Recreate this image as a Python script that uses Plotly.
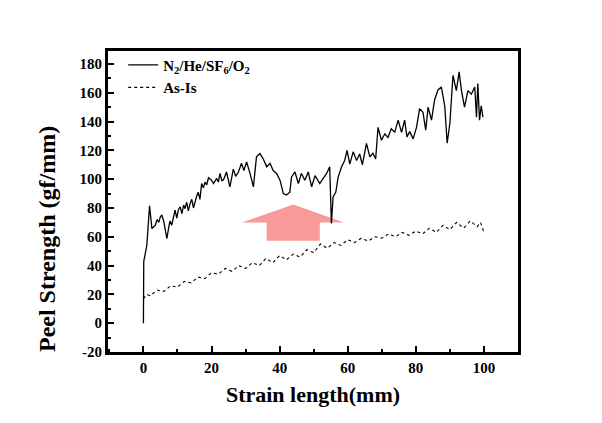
import plotly.graph_objects as go

# N2/He/SF6/O2 treated sample
treated_x = [0, 0.05, 0.1, 1.0, 1.8, 2.5, 3.0, 3.5, 4.0, 4.5, 5.0, 5.4, 5.9, 6.4, 6.9, 7.4, 7.8, 8.3, 8.8, 9.3, 9.8, 10.3, 10.8, 11.3, 11.8, 12.2, 12.7, 13.2, 13.7, 14.2, 14.7, 15.1, 15.6, 16.1, 16.6, 17.1, 17.6, 18.1, 18.6, 19.1, 20.0, 20.6, 21.5, 22.0, 22.5, 23.0, 23.5, 24.4, 25.4, 26.4, 27.1, 27.9, 28.8, 29.5, 30.3, 31.3, 32.3, 33.2, 34.2, 35.2, 36.2, 37.2, 38.1, 39.1, 40.1, 41.1, 42.0, 43.0, 43.5, 44.5, 45.5, 46.4, 47.4, 48.4, 49.4, 50.4, 51.8, 52.8, 53.8, 54.7, 55.2, 55.7, 56.5, 57.2, 58.2, 59.1, 59.8, 60.6, 61.6, 62.6, 63.5, 64.3, 65.5, 66.5, 67.4, 68.2, 68.9, 69.9, 70.9, 71.8, 72.8, 73.8, 74.8, 75.8, 76.7, 77.4, 78.2, 79.2, 80.2, 81.1, 82.1, 82.9, 83.6, 84.6, 85.5, 86.5, 87.5, 88.5, 89.2, 90.0, 90.9, 91.9, 92.7, 93.4, 94.3, 95.3, 96.3, 97.3, 97.8, 98.2, 98.7, 99.2, 99.7]
treated_y = [0, 42, 43, 54, 81.5, 65.7, 67, 68, 72, 70, 74, 75, 71.5, 66, 58.8, 66, 71, 68, 74, 78.5, 73, 79, 80.8, 76, 82, 79.5, 84, 78, 83, 86, 80, 84, 88, 91, 86, 97, 94, 98, 96, 101, 99.3, 97, 100.5, 98, 104, 99, 99.5, 105, 94.7, 107, 102, 105, 111, 106, 112, 104, 94.7, 115.5, 117.8, 114, 108.6, 111, 106, 104, 99.3, 90, 89, 91, 101.6, 105, 97, 104, 99.3, 105, 94.7, 102.5, 97, 100.5, 104, 108.6, 69.2, 87.7, 91, 101.6, 108.6, 113, 120, 110.5, 119, 113, 117.5, 110, 124.8, 115.5, 118, 114, 136, 127, 131.5, 129, 135, 132.5, 141, 132.5, 141, 129.4, 133, 128, 136, 149, 146.5, 134, 150, 141, 155, 162, 164, 150.5, 125, 139, 172, 161.5, 174.5, 161.5, 150, 161.5, 159, 164, 143, 166.4, 141, 151, 143]

# As-Is sample
asis_x = [0, 1, 2, 4, 6, 8, 10, 12, 14, 16, 18, 20, 22, 24, 26, 28, 30, 32, 34, 36, 38, 40, 42, 44, 46, 48, 50, 52, 54, 56, 58, 60, 62, 64, 66, 68, 70, 72, 74, 76, 78, 80, 82, 84, 86, 88, 90, 92, 94, 96, 98, 99, 100]
asis_y = [17, 20, 19, 23, 22, 26, 25, 29, 28, 32, 31, 35, 34, 38, 36, 40, 38, 42, 40, 45, 42, 47, 44, 48, 46, 51, 49, 55, 52, 56, 54, 58, 56, 59, 57, 60, 59, 62, 60, 63, 61, 64, 62, 66, 63, 68, 65, 70, 66, 71, 67, 70, 63]

series_names = ["N<sub>2</sub>/He/SF<sub>6</sub>/O<sub>2</sub>", "As-Is"]
x_ticks = [0, 20, 40, 60, 80, 100]
y_ticks = [-20, 0, 20, 40, 60, 80, 100, 120, 140, 160, 180]

# decorative arrow (data coords)
arrow_path = "M 44.0 82.4 L 58.9 69.9 L 51.8 69.9 L 51.8 57.2 L 36.2 57.2 L 36.2 69.9 L 28.9 69.9 Z"

FONT = "Liberation Serif"

fig = go.Figure()
fig.add_trace(go.Scatter(x=treated_x, y=treated_y, mode="lines", name="<b>" + series_names[0] + "</b>",
                         line=dict(color="black", width=1.3)))
fig.add_trace(go.Scatter(x=asis_x, y=asis_y, mode="lines", name="<b>" + series_names[1] + "</b>",
                         line=dict(color="black", width=1.1, dash="dot")))

fig.add_shape(type="path", path=arrow_path, xref="x", yref="y",
              fillcolor="#F99A9A", line=dict(width=0), layer="below")

axis_common = dict(showline=True, linecolor="black", linewidth=3, mirror=True,
                   ticks="inside", ticklen=6, tickwidth=2, tickcolor="black",
                   showgrid=False, zeroline=False,
                   tickfont=dict(family=FONT, size=15, color="black"))

fig.update_xaxes(range=[-10.4, 110], tickvals=x_ticks,
                 ticktext=["<b>%d</b>" % v for v in x_ticks],
                 minor=dict(ticks="inside", ticklen=3, tickwidth=1.5, dtick=10, tick0=0, tickcolor="black"),
                 title=dict(text="<b>Strain length(mm)</b>", font=dict(family=FONT, size=22, color="black"), standoff=12),
                 **axis_common)
fig.update_yaxes(range=[-20, 189], tickvals=y_ticks,
                 ticktext=["<b>%d</b>" % v for v in y_ticks],
                 minor=dict(ticks="inside", ticklen=3, tickwidth=1.5, dtick=10, tick0=0, tickcolor="black"),
                 **axis_common)

fig.add_annotation(text="<b>Peel Strength (gf/mm)</b>", xref="paper", yref="paper",
                   x=-0.149, y=0.375, xanchor="center", yanchor="middle", textangle=-90,
                   showarrow=False, font=dict(family=FONT, size=24, color="black"))

fig.update_layout(width=602, height=423, margin=dict(l=108, r=84, t=51, b=71),
                  paper_bgcolor="white", plot_bgcolor="white",
                  showlegend=True,
                  legend=dict(x=0.037, y=1.008, xanchor="left", yanchor="top",
                              bgcolor="rgba(0,0,0,0)", font=dict(family=FONT, size=15, color="black"),
                              itemwidth=30, tracegroupgap=0))

fig.write_html("out.html")
